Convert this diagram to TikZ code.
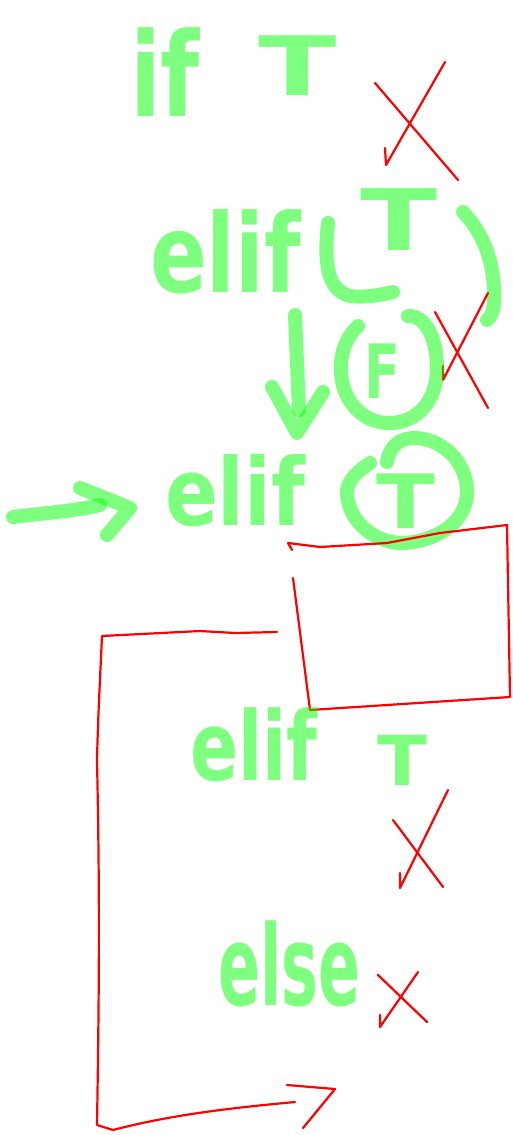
\documentclass[tikz,border=0pt]{standalone}
\usepackage{fontspec}
\usepackage{graphicx}
\newfontfamily\hwfam{DejaVu Sans}
\newcommand\hwsize[1]{\hwfam\bfseries\fontsize{#1}{#1}\selectfont}
\tikzset{
  gs/.style={draw=green, draw opacity=0.5, line width=14pt, line cap=round, line join=round},
  rs/.style={draw=red, line width=2.2pt, line cap=round, line join=round},
  hwt/.style={text=green, text opacity=0.5, anchor=base west, inner sep=0pt, outer sep=0pt}
}
\begin{document}
\begin{tikzpicture}[x=1pt,y=-1pt]
\useasboundingbox (0,0) rectangle (513,1135);
% ---------- row 1 ----------
\node[hwt, font=\hwsize{90}] (if1) at (130,116) {\scalebox{1}[1.3]{if}};
\node[hwt, font=\hwsize{82}] (t1) at (258,95) {\scalebox{1.4}[1]{T}};
\draw[rs] (375,83) -- (458,180);
\draw[rs] (445,62) -- (386,165) -- (385,148);
% ---------- row 2 ----------
\node[hwt, font=\hwsize{84}] (elif2) at (150,292) {\scalebox{1}[1.3]{elif}};
\node[hwt, font=\hwsize{85}] (t2) at (360,250) {\scalebox{1.33}[1]{T}};
\draw[gs] (328,223) .. controls (324,260) and (326,290) .. (350,296) .. controls (365,298) and (380,295) .. (393,292);
\draw[gs] (463,212) .. controls (485,235) and (495,265) .. (494,300) .. controls (494,312) and (490,318) .. (487,320);
\draw[rs] (435,312) -- (488,408);
\draw[rs] (488,293) -- (443,380) -- (443,366);
% down arrow
\coordinate (dtop) at (295,315);
\coordinate (dtip) at (297,433);
\draw[gs] (dtop) -- (299,410);
\draw[gs] (272,387) -- (dtip) -- (323,392);
% circled F
\node[hwt, font=\hwsize{75}] (f2) at (364,398) {\scalebox{0.7}[1]{F}};
\draw[gs] (358,326) .. controls (343,340) and (340,360) .. (341,372) .. controls (342,400) and (362,423) .. (389,423) .. controls (418,423) and (437,400) .. (437,368) .. controls (437,338) and (425,315) .. (408,316);
% ---------- row 3 ----------
\coordinate (astart) at (13,517);
\draw[gs] (astart) .. controls (45,513) and (75,511) .. (100,505);
\draw[gs] (80,488) -- (130,508) -- (107,535);
\node[hwt, font=\hwsize{78}] (elif3) at (165,525) {\scalebox{1}[1.2]{elif}};
\node[hwt, font=\hwsize{75}] (t3) at (376,528) {\scalebox{1.15}[1]{T}};
\draw[gs] (370,463) .. controls (352,475) and (346,485) .. (347,495) .. controls (350,525) and (378,544) .. (405,543) .. controls (440,540) and (468,520) .. (467,490) .. controls (466,460) and (440,437) .. (412,438) .. controls (400,439) and (390,445) .. (387,462);
% red box
\draw[rs] (292,550) -- (288,543) -- (320,547) -- (387,543) -- (440,533) -- (507,525) -- (510,697) -- (310,710) -- (293,578);
% red bracket
\coordinate (bstart) at (277,632);
\coordinate (bend) at (295,1102);
\draw[rs] (bstart) -- (235,633) -- (200,631) -- (102,636) .. controls (99,700) and (98,720) .. (97,760) .. controls (100,900) and (99,1000) .. (97,1125) -- (113,1130) .. controls (170,1115) and (230,1108) .. (bend);
\draw[rs] (287,1085) -- (335,1089) -- (303,1128);
% ---------- row 4 ----------
\node[hwt, font=\hwsize{71}] (elif4) at (190,780) {\scalebox{1}[1.35]{elif}};
\node[hwt, font=\hwsize{69}] (t4) at (377,785) {\scalebox{1.06}[1]{T}};
\draw[rs] (393,820) -- (443,887);
\draw[rs] (448,790) -- (400,888) -- (400,873);
% ---------- row 5 ----------
\node[hwt, font=\hwsize{62}] (else5) at (218,1005) {\scalebox{1}[1.8]{else}};
\draw[rs] (378,975) -- (427,1022);
\draw[rs] (418,972) -- (380,1027) -- (380,1015);
\end{tikzpicture}
\end{document}
